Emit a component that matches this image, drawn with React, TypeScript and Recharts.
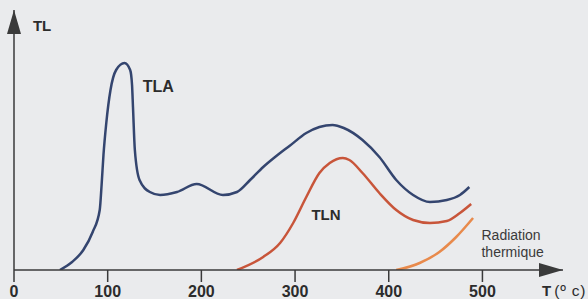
import React from "react";
import { LineChart, Line, XAxis, YAxis, ReferenceDot } from "recharts";

// Temperature (°C) and TL intensity (arbitrary units)
const tlaT = [49, 62, 74, 84, 91.5, 93.5, 95.5, 98.5, 103, 109, 118, 124, 126, 127, 129, 134, 145, 156, 174, 195, 223, 238, 252, 266, 280, 294, 312, 326, 340, 352, 372, 390, 408, 426, 444, 462, 476, 486];
const tlaV = [0, 8, 20, 38, 60, 85, 115, 147, 180, 200, 207, 200, 185, 163, 120, 90, 78, 75, 78, 86, 75, 78, 90, 103, 114, 124, 137, 143, 145, 142, 130, 113, 90, 75, 68, 70, 75, 83];

const tlnT = [238, 266, 284, 298, 312, 326, 337, 351, 358, 372, 390, 408, 426, 444, 462, 476, 488];
const tlnV = [0, 13, 27, 47, 73, 97, 107, 112, 110, 97, 77, 60, 50, 47, 49, 57, 66];

const radT = [408, 433, 454, 472, 490];
const radV = [0, 7, 18, 33, 52];

const xTicks = [0, 100, 200, 300, 400, 500];

const tlaData = tlaT.map((t, i) => ({ t, v: tlaV[i] }));
const tlnData = tlnT.map((t, i) => ({ t, v: tlnV[i] }));
const radData = radT.map((t, i) => ({ t, v: radV[i] }));

const FONT = "'Liberation Sans', Arial, Helvetica, sans-serif";
const AXIS = "#3a3a3a";
const TEXT = "#2c2c2c";

const BottomTick = (props: any) => {
  const { x, y, payload } = props;
  return (
    <text x={x} y={y + 12.5} textAnchor="middle" fontFamily={FONT} fontWeight={700} fontSize={16} fill={TEXT}>
      {payload.value}
    </text>
  );
};

const boldLabel = (text: string, size = 15) => (props: any) => {
  const { viewBox } = props;
  return (
    <text x={viewBox.x} y={viewBox.y} textAnchor="middle" dominantBaseline="central" fontFamily={FONT} fontWeight={700} fontSize={size} fill={TEXT}>
      {text}
    </text>
  );
};

const plainLabel = (text: string) => (props: any) => {
  const { viewBox } = props;
  return (
    <text x={viewBox.x} y={viewBox.y} textAnchor="start" dominantBaseline="central" fontFamily={FONT} fontSize={14} fill="#3a3a3a">
      {text}
    </text>
  );
};

const axisTitle = (props: any) => {
  const { viewBox } = props;
  const x = viewBox.x + viewBox.width;
  const y = viewBox.y + 26;
  return (
    <text y={y} fontFamily={FONT} fill={TEXT}>
      <tspan x={x - 21} fontWeight={700} fontSize={15}>T</tspan>
      <tspan dx={3} fontSize={15.5} letterSpacing={0.8}>(º c)</tspan>
    </text>
  );
};

export default function App() {
  return (
    <div style={{ position: "absolute", left: 0, top: 0, width: 588, height: 299, background: "#eaebed", overflow: "hidden" }}>
      <svg width={0} height={0} style={{ position: "absolute" }}>
        <defs>
          <marker id="axisArrow" markerUnits="userSpaceOnUse" markerWidth={24} markerHeight={14} refX={24} refY={7} orient="auto-start-reverse" viewBox="0 0 24 14">
            <path d="M0,0 L24,7 L0,14 z" fill={AXIS} />
          </marker>
        </defs>
      </svg>
      <LineChart width={588} height={299} margin={{ top: 10, right: 25, left: 13, bottom: 0 }}>
        <XAxis
          type="number"
          dataKey="t"
          domain={[0, 586]}
          ticks={xTicks}
          allowDataOverflow
          height={29}
          tickSize={12}
          tickMargin={2}
          tickLine={{ stroke: AXIS, strokeWidth: 1.5 }}
          axisLine={{ stroke: AXIS, strokeWidth: 1.5, markerEnd: "url(#axisArrow)" }}
          tick={<BottomTick />}
          label={{ content: axisTitle }}
        />
        <YAxis
          type="number"
          dataKey="v"
          domain={[0, 260]}
          allowDataOverflow
          width={1}
          tick={false}
          tickLine={false}
          axisLine={{ stroke: AXIS, strokeWidth: 1.5, markerStart: "url(#axisArrow)" }}
        />
        <Line data={tlaData} dataKey="v" type="monotone" stroke="#34456f" strokeWidth={2.5} dot={false} isAnimationActive={false} />
        <Line data={tlnData} dataKey="v" type="monotone" stroke="#c8553a" strokeWidth={2.5} dot={false} isAnimationActive={false} />
        <Line data={radData} dataKey="v" type="monotone" stroke="#e88a4c" strokeWidth={2.5} dot={false} isAnimationActive={false} />
        <ReferenceDot x={30} y={245} r={0} label={{ content: boldLabel("TL") }} />
        <ReferenceDot x={154} y={184} r={0} label={{ content: boldLabel("TLA", 16) }} />
        <ReferenceDot x={333} y={56} r={0} label={{ content: boldLabel("TLN") }} />
        <ReferenceDot x={499} y={35} r={0} label={{ content: plainLabel("Radiation") }} />
        <ReferenceDot x={499} y={18} r={0} label={{ content: plainLabel("thermique") }} />
      </LineChart>
    </div>
  );
}
